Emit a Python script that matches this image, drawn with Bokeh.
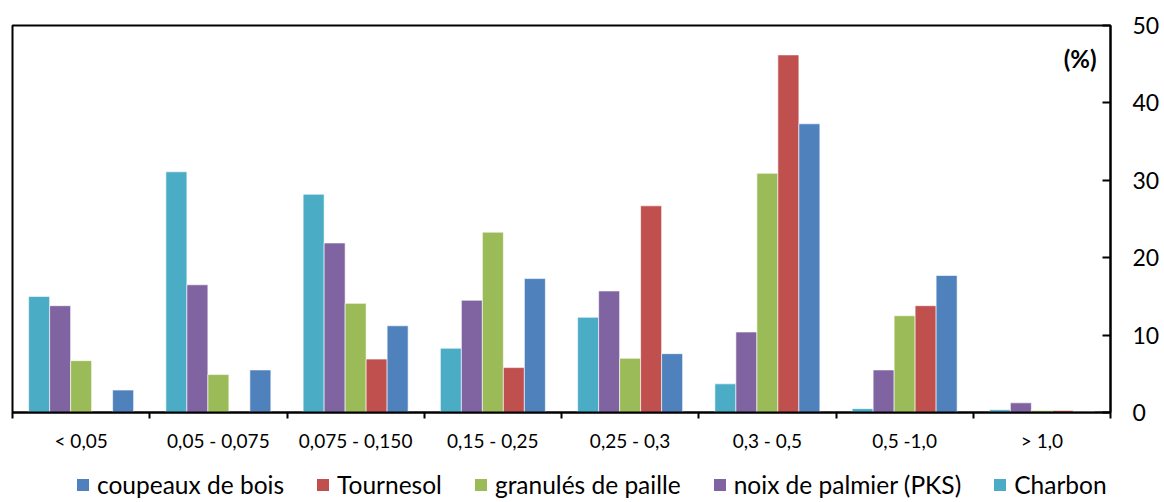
from bokeh.plotting import figure
from bokeh.layouts import column
from bokeh.models import (ColumnDataSource, FixedTicker, Range1d, Legend, LegendItem, Label)
from bokeh.embed import file_html
from bokeh.resources import INLINE

categories = ["< 0,05", "0,05 - 0,075", "0,075 - 0,150", "0,15 - 0,25",
              "0,25 - 0,3", "0,3 - 0,5", "0,5 -1,0", "> 1,0"]
charbon = [15.0, 31.1, 28.2, 8.3, 12.3, 3.7, 0.5, 0.35]
noix = [13.8, 16.5, 21.9, 14.5, 15.7, 10.4, 5.5, 1.25]
granules = [6.7, 4.9, 14.1, 23.3, 7.0, 30.9, 12.5, 0.25]
tournesol = [0.0, 0.0, 6.9, 5.8, 26.7, 46.2, 13.8, 0.25]
coupeaux = [2.9, 5.5, 11.2, 17.3, 7.6, 37.3, 17.7, 0.1]

series = [
    ("Charbon", charbon, "#4BACC6"),
    ("noix de palmier (PKS)", noix, "#8064A2"),
    ("granulés de paille", granules, "#9BBB59"),
    ("Tournesol", tournesol, "#C0504D"),
    ("coupeaux de bois", coupeaux, "#4F81BD"),
]
legend_order = ["coupeaux de bois", "Tournesol", "granulés de paille",
                "noix de palmier (PKS)", "Charbon"]

FONT = "Lato"
n = len(categories)
bw = 0.153

p = figure(frame_width=1098, frame_height=387,
           output_backend="svg",
           toolbar_location=None, x_range=Range1d(0, n), y_range=Range1d(0, 50),
           y_axis_location="right", min_border_left=12, min_border_top=25,
           min_border_bottom=44, min_border_right=0)
p.xgrid.visible = False
p.ygrid.visible = False
p.outline_line_color = "black"
p.outline_line_width = 2
p.outline_line_alpha = 1
p.background_fill_color = "white"
p.border_fill_color = "white"

for k, (name, vals, color) in enumerate(series):
    xs = [i + 0.5 + (k - 2) * bw for i in range(n)]
    src = ColumnDataSource(dict(x=xs, top=vals))
    p.vbar(x="x", top="top", bottom=0, width=bw, source=src,
           fill_color=color, line_color="white", line_width=1, line_alpha=0.6)

# x axis
xa = p.xaxis[0]
centers = [i + 0.5 for i in range(n)]
xa.ticker = FixedTicker(ticks=centers, minor_ticks=list(range(n + 1)))
xa.major_label_overrides = {c: lab for c, lab in zip(centers, categories)}
xa.major_tick_out = 0
xa.major_tick_in = 0
xa.minor_tick_out = 6
xa.minor_tick_in = 0
xa.minor_tick_line_color = "black"
xa.minor_tick_line_width = 2
xa.axis_line_color = "black"
xa.axis_line_width = 2
xa.major_label_text_font = FONT
xa.major_label_text_font_size = "19px"
xa.major_label_text_color = "black"
xa.major_label_standoff = 10

# y axis (right)
ya = p.yaxis[0]
ya.ticker = FixedTicker(ticks=[0, 10, 20, 30, 40, 50])
ya.major_tick_in = 8
ya.major_tick_out = 0
ya.minor_tick_in = 0
ya.minor_tick_out = 0
ya.major_tick_line_color = "black"
ya.major_tick_line_width = 2
ya.axis_line_color = "black"
ya.axis_line_width = 2
ya.major_label_text_font = FONT
ya.major_label_text_font_size = "23px"
ya.major_label_text_color = "black"
ya.major_label_standoff = 22

p.add_layout(Label(x=n, y=45.8, text="(%)", text_align="right", text_baseline="middle",
                   x_offset=-14, text_font=FONT, text_font_size="24px",
                   text_font_style="bold", text_color="black"))

# legend strip below the chart
lg = figure(width=1160, height=46, output_backend="svg", toolbar_location=None,
            x_axis_location=None, y_axis_location=None,
            x_range=Range1d(0, 1), y_range=Range1d(0, 1),
            min_border_left=0, min_border_right=0, min_border_top=0, min_border_bottom=0)
lg.xgrid.visible = False
lg.ygrid.visible = False
lg.outline_line_color = None
colors = {name: color for name, vals, color in series}
items = []
for name in legend_order:
    # proxy renderer kept outside the visible range; only its swatch is shown
    r = lg.quad(left=[-6], right=[-5], bottom=[0], top=[1],
                fill_color=colors[name], line_color=None)
    items.append(LegendItem(label=name, renderers=[r]))
legend = Legend(items=items, orientation="horizontal", location=(63, 3),
                label_text_font=FONT, label_text_font_size="24.5px",
                label_text_color="black", glyph_width=15, glyph_height=15,
                label_standoff=7, spacing=31, border_line_color=None,
                background_fill_alpha=0, padding=0, margin=0)
lg.add_layout(legend, "center")

layout = column(p, lg, spacing=0)
open("out.html", "w").write(file_html(layout, INLINE))
